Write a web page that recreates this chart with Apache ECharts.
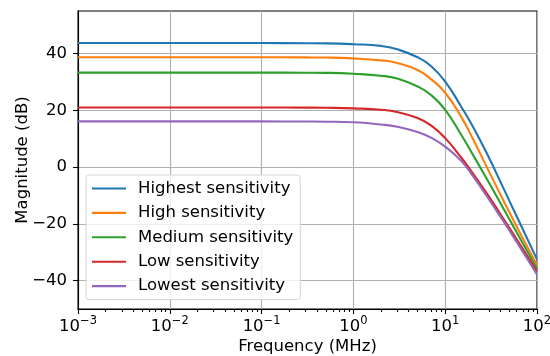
<!DOCTYPE html>
<html>
<head>
<meta charset="utf-8">
<script src="https://cdn.jsdelivr.net/npm/echarts@6/dist/echarts.min.js"></script>
<style>
  html, body { margin: 0; padding: 0; background: #fff; }
  #chart { width: 550px; height: 356px; }
</style>
</head>
<body>
<div id="chart"></div>
<script>
// frequency points in MHz
const freq = [0.001, 0.01, 0.1, 0.3, 0.5, 1, 2, 3, 5, 7, 10, 15, 20, 30, 40, 50, 70, 100]

const highest = [43.7, 43.7, 43.7, 43.65, 43.6, 43.3, 42.7, 41.5, 38.7, 35.6, 30.1, 21.2, 14.3, 3.3, -5.2, -11.9, -21.9, -32.5]
const high    = [38.7, 38.7, 38.7, 38.65, 38.6, 38.3, 37.6, 36.7, 34.2, 31.0, 26.2, 17.6, 10.0, -1.6, -9.7, -15.9, -25.1, -34.5]
const medium  = [33.3, 33.3, 33.3, 33.25, 33.2, 32.9, 32.2, 31.2, 28.4, 25.4, 20.2, 11.3, 4.4, -5.5, -12.7, -18.4, -26.8, -35.8]
const low     = [21.0, 21.0, 21.0, 20.95, 20.9, 20.7, 20.2, 19.4, 17.3, 14.7, 10.2, 3.3, -2.2, -10.4, -16.6, -21.4, -28.8, -36.8]
const lowest  = [16.1, 16.1, 16.1, 16.05, 16.0, 15.8, 15.0, 14.2, 12.4, 10.4, 7.2, 2.1, -3.1, -11.4, -17.5, -22.3, -29.8, -37.8]

const seriesNames = ['Highest sensitivity', 'High sensitivity', 'Medium sensitivity', 'Low sensitivity', 'Lowest sensitivity']
const seriesValues = [highest, high, medium, low, lowest]
const colors = ['#1f77b4', '#ff7f0e', '#2ca02c', '#d62728', '#9467bd']

const yTicks = [-40, -20, 0, 20, 40]

// minor ticks of the log axis (2..9 per decade), as log10 positions
const minorTicks = []
for (let d = -3; d < 2; d++) {
  for (let k = 2; k <= 9; k++) minorTicks.push(d + Math.log10(k))
}

const font = 'DejaVu Sans'
const fs = 16.5
const chart = echarts.init(document.getElementById('chart'), null, { renderer: 'canvas' })

const option = {
  animation: false,
  color: colors,
  textStyle: { fontFamily: font, color: '#000' },
  grid: {
    left: 78, right: 13, top: 11, bottom: 47,
    containLabel: false, outerBoundsMode: 'none',
    show: true, borderColor: '#000', borderWidth: 1.1, backgroundColor: 'transparent'
  },
  legend: {
    orient: 'vertical',
    left: 86, top: 175,
    icon: 'path://M0,0 L34,0 L34,2.1 L0,2.1 Z',
    itemWidth: 34, itemHeight: 16, itemGap: 7.4,
    padding: [5, 7, 5, 6],
    backgroundColor: 'rgba(255,255,255,0.8)',
    borderColor: '#d6d6d6', borderWidth: 1, borderRadius: 3,
    textStyle: { fontFamily: font, fontSize: fs, color: '#000', padding: [0, 0, 0, 7] },
    data: seriesNames
  },
  xAxis: [{
    type: 'log',
    logBase: 10,
    min: 0.001, max: 100,
    name: 'Frequency (MHz)',
    nameLocation: 'middle',
    nameGap: 29,
    nameMoveOverlap: false,
    nameTextStyle: { fontFamily: font, fontSize: fs, color: '#000' },
    axisLine: { show: true, onZero: false, lineStyle: { color: '#000', width: 1.1 } },
    axisTick: { show: true, length: 5, lineStyle: { color: '#000', width: 1.1 } },
    axisLabel: {
      show: true, margin: 6, showMinLabel: true, showMaxLabel: true,
      formatter: v => {
        const e = Math.round(Math.log10(v))
        return '{b|10}{s|' + (e < 0 ? '\u2212' + (-e) : e) + '}'
      },
      rich: {
        b: { fontFamily: font, fontSize: fs, color: '#000', verticalAlign: 'bottom' },
        s: { fontFamily: font, fontSize: 11.5, color: '#000', verticalAlign: 'bottom', padding: [0, 0, 8, 0] }
      }
    },
    splitLine: { show: true, lineStyle: { color: '#b0b0b0', width: 1.1 } }
  }, {
    // minor ticks only
    type: 'value',
    min: -3, max: 2,
    position: 'bottom',
    axisLine: { show: false, onZero: false },
    axisLabel: { show: false },
    splitLine: { show: false },
    axisTick: { show: true, length: 3, customValues: minorTicks, lineStyle: { color: '#000', width: 1.1 } }
  }],
  yAxis: {
    type: 'value',
    min: -50, max: 55,
    name: 'Magnitude (dB)',
    nameLocation: 'middle',
    nameGap: 47,
    nameMoveOverlap: false,
    nameTextStyle: { fontFamily: font, fontSize: fs, color: '#000' },
    axisLine: { show: true, onZero: false, lineStyle: { color: '#000', width: 1.1 } },
    axisTick: { show: true, length: 5, customValues: yTicks, lineStyle: { color: '#000', width: 1.1 } },
    axisLabel: {
      show: true, margin: 11, customValues: yTicks,
      fontFamily: font, fontSize: fs, color: '#000',
      formatter: v => (v < 0 ? '\u2212' + (-v) : String(v))
    },
    splitLine: { show: true, lineStyle: { color: '#b0b0b0', width: 1.1 } }
  },
  series: seriesNames.map((name, i) => ({
    name,
    type: 'line',
    xAxisIndex: 0,
    data: freq.map((f, j) => [f, seriesValues[i][j]]),
    showSymbol: false,
    symbol: 'none',
    smooth: 0.5,
    lineStyle: { width: 2.1, color: colors[i] },
    z: 3
  }))
}

chart.setOption(option)
</script>
</body>
</html>
